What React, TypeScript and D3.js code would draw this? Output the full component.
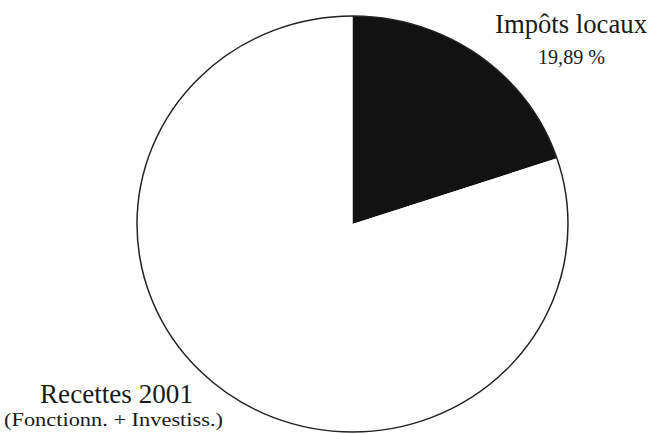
import React, { useEffect, useRef } from 'react';
import * as d3 from 'd3';

// Slice data (percent of 2001 receipts)
const sliceNames = ['Impôts locaux', 'Autres recettes'];
const sliceValues = [19.89, 80.11];
const sliceColors = ['#121212', '#ffffff'];

const WIDTH = 664;
const HEIGHT = 434;

export default function App() {
  const svgRef = useRef<SVGSVGElement | null>(null);

  useEffect(() => {
    if (!svgRef.current) return;
    const svg = d3.select(svgRef.current);
    svg.selectAll('*').remove();

    svg.append('rect').attr('width', WIDTH).attr('height', HEIGHT).attr('fill', '#ffffff');

    // the scanned pie is a touch wider than tall
    const cx = 352.5;
    const cy = 224;
    const rx = 215.5;
    const ry = 208;

    const data = sliceNames.map((name, i) => ({ name, value: sliceValues[i], color: sliceColors[i] }));
    const pie = d3.pie<any>().sort(null).value((d) => d.value);
    const arc = d3.arc<any>().innerRadius(0).outerRadius(rx);

    const g = svg.append('g').attr('transform', `translate(${cx},${cy}) scale(1,${ry / rx})`);

    g.selectAll('path')
      .data(pie(data))
      .enter()
      .append('path')
      .attr('d', arc)
      .attr('fill', (d: any) => d.data.color)
      .attr('stroke', 'none');

    // outline
    g.append('circle')
      .attr('r', rx)
      .attr('fill', 'none')
      .attr('stroke', '#222')
      .attr('stroke-width', 1.5)
      .attr('vector-effect', 'non-scaling-stroke');

    const font = '"Liberation Serif", "DejaVu Serif", serif';

    // width = measured span of the scanned text
    const labels = [
      { text: 'Impôts locaux', x: 571, y: 33, size: 27, width: 152 },
      { text: `${sliceValues[0].toFixed(2).replace('.', ',')} %`, x: 571.5, y: 64, size: 22, width: 67 },
      { text: 'Recettes 2001', x: 116.5, y: 403, size: 27, width: 153 },
      { text: '(Fonctionn. + Investiss.)', x: 113.5, y: 426, size: 18, width: 219 },
    ];

    svg.append('g')
      .selectAll('text')
      .data(labels)
      .enter()
      .append('text')
      .attr('x', (d) => d.x)
      .attr('y', (d) => d.y)
      .attr('text-anchor', 'middle')
      .attr('textLength', (d) => d.width)
      .attr('lengthAdjust', 'spacingAndGlyphs')
      .style('font-family', font)
      .style('font-size', (d) => `${d.size}px`)
      .attr('fill', '#1a1a1a')
      .text((d) => d.text);
  }, []);

  return (
    <svg
      ref={svgRef}
      width={WIDTH}
      height={HEIGHT}
      style={{ position: 'absolute', left: 0, top: 0, display: 'block' }}
    />
  );
}
